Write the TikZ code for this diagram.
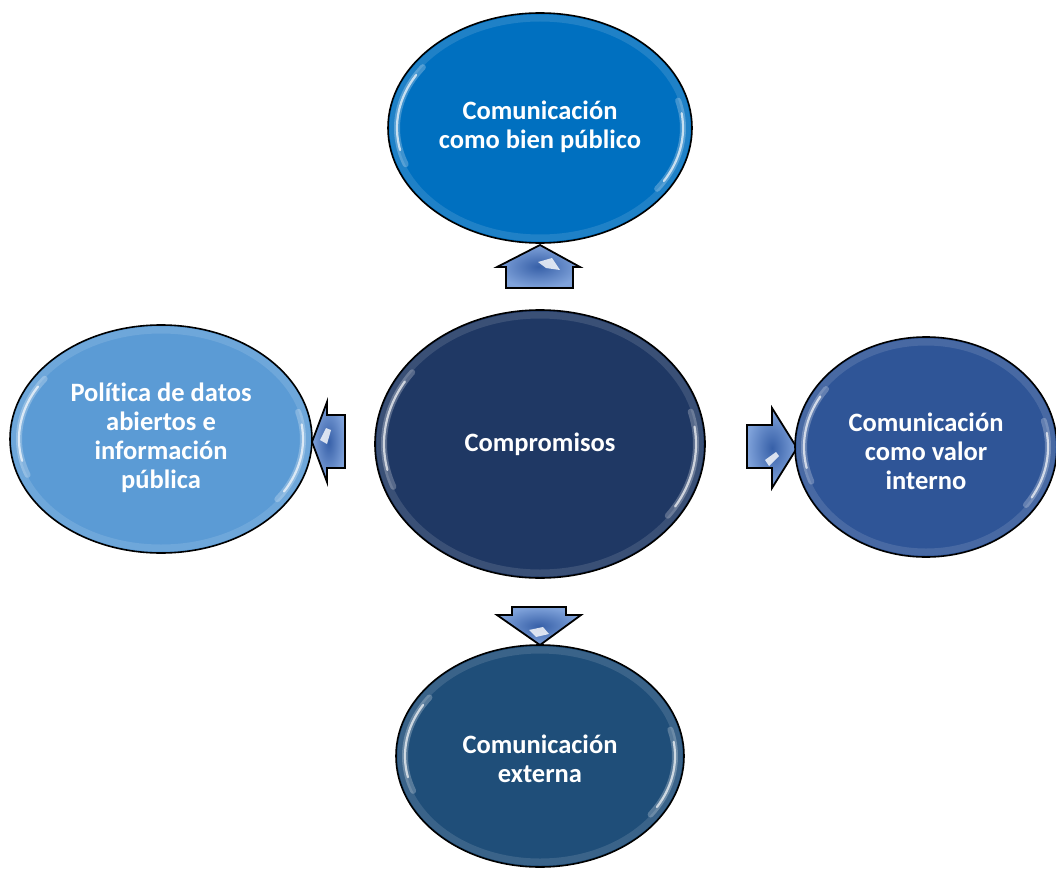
\documentclass[tikz,border=0pt]{standalone}
\usepackage{fontspec}
\setmainfont{Carlito}[Ligatures={NoCommon}]
\usetikzlibrary{shapes.geometric}
\definecolor{cTop}{HTML}{0070C0}
\definecolor{cMid}{HTML}{1F3864}
\definecolor{cLeft}{HTML}{5B9BD5}
\definecolor{cRight}{HTML}{2F5597}
\definecolor{cBottom}{HTML}{1F4E79}
\definecolor{arrIn}{HTML}{3760A8}
\definecolor{arrOut}{HTML}{7FA2DA}
\newcommand\glossy[3]{%
  \draw[rim] (#1.center) ellipse[x radius=#2-5, y radius=#3-5];
  \draw[hlsoft] ([shift={({(#2-9)*cos(215)},{(#3-9)*sin(215)})}]#1.center)
     arc[start angle=215, end angle=160, x radius=#2-9, y radius=#3-9];
  \draw[hl] ([shift={({(#2-9)*cos(210)},{(#3-9)*sin(210)})}]#1.center)
     arc[start angle=210, end angle=168, x radius=#2-9, y radius=#3-9];
  \draw[hlsoft] ([shift={({(#2-9)*cos(35)},{(#3-9)*sin(35)})}]#1.center)
     arc[start angle=35, end angle=-15, x radius=#2-9, y radius=#3-9];
  \draw[hl] ([shift={({(#2-9)*cos(30)},{(#3-9)*sin(30)})}]#1.center)
     arc[start angle=30, end angle=-8, x radius=#2-9, y radius=#3-9];
}
\begin{document}
\begin{tikzpicture}[x=1pt,y=-1pt,
  bub/.style={ellipse, draw=black, line width=1.6pt, inner sep=0pt},
  lbl/.style={text=white, font=\bfseries\fontsize{26.5}{29}\selectfont, align=center, inner sep=0pt},
  rim/.style={white, opacity=0.12, line width=7pt},
  hl/.style={white, opacity=0.7, line width=2.2pt, line cap=round},
  hlsoft/.style={white, opacity=0.25, line width=6pt, line cap=round},
  barrow/.style={draw=black, line width=1.8pt, line join=miter, shading=radial, inner color=arrIn, outer color=arrOut},
  shine/.style={fill=white, opacity=0.8, draw=none}]
\useasboundingbox (0,0) rectangle (1056,869);
% block arrows
\draw[barrow] (506,288) -- (506,267) -- (497,267) -- (540,245) -- (580,267) -- (573,267) -- (573,288) -- cycle;
\fill[shine] (538,262) -- (552,258) -- (560,270) -- (546,268) -- cycle;
\draw[barrow] (345,415) -- (327,415) -- (327,402) -- (312,442) -- (327,482) -- (327,468) -- (345,468) -- cycle;
\fill[shine] (320,440) -- (326,428) -- (331,430) -- (327,444) -- cycle;
\draw[barrow] (747,425) -- (772,425) -- (772,408) -- (797,448) -- (772,488) -- (772,468) -- (747,468) -- cycle;
\fill[shine] (765,460) -- (776,452) -- (779,456) -- (769,466) -- cycle;
\draw[barrow] (512,607) -- (512,615) -- (497,615) -- (540,645) -- (581,615) -- (566,615) -- (566,607) -- cycle;
\fill[shine] (529,630) -- (543,627) -- (549,634) -- (536,637) -- cycle;
% ellipses
\node[bub, fill=cTop, minimum width=304, minimum height=230] (top) at (540,128) {};
\glossy{top}{152}{115}
\node[lbl] (topt) at (540,127) {Comunicación\\como bien público};
\node[bub, fill=cMid, minimum width=330, minimum height=268] (mid) at (540,444) {};
\glossy{mid}{165}{134}
\node[lbl] (midt) at (540,444) {Compromisos};
\node[bub, fill=cLeft, minimum width=302, minimum height=228] (left) at (161,439) {};
\glossy{left}{151}{114}
\node[lbl] (leftt) at (161,438) {Política de datos\\abiertos e\\información\\pública};
\node[bub, fill=cRight, minimum width=262, minimum height=220] (right) at (926,447) {};
\glossy{right}{131}{110}
\node[lbl] (rightt) at (926,451) {Comunicación\\como valor\\interno};
\node[bub, fill=cBottom, minimum width=288, minimum height=222] (bot) at (540,756) {};
\glossy{bot}{144}{111}
\node[lbl] (bott) at (540,759) {Comunicación\\externa};
\end{tikzpicture}
\end{document}
